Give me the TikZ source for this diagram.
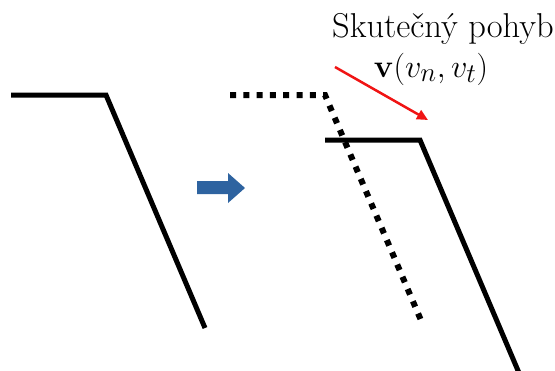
\documentclass[tikz,border=0pt]{standalone}
\usepackage{amsmath}
\usetikzlibrary{arrows.meta}
\definecolor{bluearr}{RGB}{46,99,160}
\definecolor{redarr}{RGB}{240,20,20}
\begin{document}
\begin{tikzpicture}[x=1pt,y=-1pt,
  solidline/.style={line width=5pt,line join=miter,black},
  dotline/.style={line width=6pt,dash pattern=on 6pt off 7.3pt,black},
  redline/.style={redarr,line width=2.5pt,-{Triangle[length=11pt,width=10pt]}},
  lab/.style={inner sep=0pt,anchor=base,font=\fontsize{34.5}{40}\selectfont},
  mathlab/.style={inner sep=0pt,anchor=base,scale=1.3,font=\fontsize{24.88}{30}\selectfont}]
\useasboundingbox (0,0) rectangle (555,370);
% original shape
\coordinate (a1) at (11,95);
\coordinate (a2) at (106,95);
\coordinate (a3) at (205,328);
\draw[solidline] (a1) -- (a2) -- (a3);
% dotted shape
\coordinate (b1) at (230,95);
\coordinate (b2) at (325,95);
\coordinate (b3) at (423,325);
\draw[dotline] (b1) -- (b2) -- (b3);
% moved shape
\coordinate (c1) at (325,140);
\coordinate (c2) at (420,140);
\coordinate (c3) at (522,380);
\draw[solidline] (c1) -- (c2) -- (c3);
% blue arrow
\fill[bluearr] (197,181) -- (228,181) -- (228,173) -- (245,188) -- (228,203) -- (228,194) -- (197,194) -- cycle;
% red arrow
\coordinate (r1) at (335,67);
\coordinate (r2) at (428,120);
\draw[redline] (r1) -- (r2);
% labels
\node[lab] (t1) at (443,37) {Skutečný pohyb};
\node[mathlab] (t2) at (431,77) {$\mathbf{v}(v_n,v_t)$};
\end{tikzpicture}
\end{document}
